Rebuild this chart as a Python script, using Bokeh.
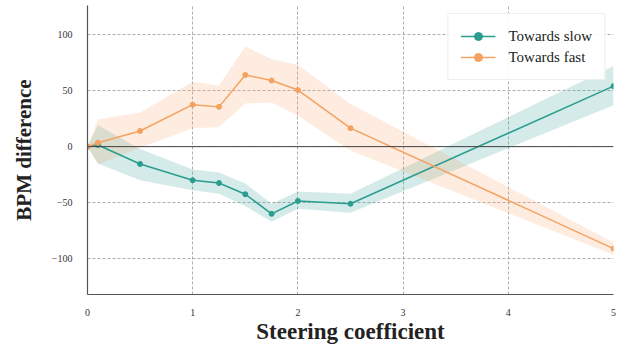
from bokeh.plotting import figure
from bokeh.models import Range1d, Span, Legend, LegendItem, FixedTicker, CustomJSTickFormatter
from bokeh.embed import file_html
from bokeh.resources import INLINE

coef = [0, 0.1, 0.5, 1.0, 1.25, 1.5, 1.75, 2.0, 2.5, 5.0]
slow_mean = [0, 1.5, -15.5, -30, -32.5, -42.5, -60, -48.5, -51, 54]
slow_low = [0, -15, -30, -39, -42, -53, -67, -55.5, -59, 37]
slow_high = [0, 19, -2, -20.5, -23, -33, -51, -40, -42, 72]
fast_mean = [0, 3.5, 14, 37.5, 35.5, 64, 59, 50.5, 16.5, -91]
fast_low = [0, -16, -1, 16.5, 17.5, 38.5, 39.5, 27.5, -3.5, -96.5]
fast_high = [0, 24.5, 30.5, 58, 54.5, 89.5, 78, 73, 38, -85.5]
x_ticks = [0, 1, 2, 3, 4, 5]
y_ticks = [-100, -50, 0, 50, 100]

TEAL = "#2a9d8f"
ORANGE = "#f4a261"
FONT = "Liberation Serif"

p = figure(width=629, height=347, output_backend="svg", toolbar_location=None,
           x_range=Range1d(0, 5), y_range=Range1d(-132, 126),
           min_border_left=87, min_border_right=16, min_border_top=5, min_border_bottom=53)
p.outline_line_color = None

p.varea(x=coef, y1=slow_low, y2=slow_high, fill_color=TEAL, fill_alpha=0.2)
p.varea(x=coef, y1=fast_low, y2=fast_high, fill_color=ORANGE, fill_alpha=0.2)

zero = Span(location=0, dimension="width", line_color="#444444", line_width=1)
p.add_layout(zero)

l1 = p.line(coef, slow_mean, line_color=TEAL, line_width=1.5)
s1 = p.scatter(coef, slow_mean, size=5, fill_color=TEAL, line_color=TEAL)
l2 = p.line(coef, fast_mean, line_color=ORANGE, line_width=1.5)
s2 = p.scatter(coef, fast_mean, size=5, fill_color=ORANGE, line_color=ORANGE)

for ax in (p.xaxis[0], p.yaxis[0]):
    ax.major_tick_line_color = None
    ax.minor_tick_line_color = None
    ax.major_tick_out = 0
    ax.major_tick_in = 0
    ax.minor_tick_out = 0
    ax.axis_line_color = "#555555"
    ax.axis_line_width = 1.2
    ax.major_label_text_font = FONT
    ax.major_label_text_font_size = "10px"
    ax.major_label_text_color = "#333333"
    ax.axis_label_text_font = FONT
    ax.axis_label_text_font_style = "bold"
    ax.axis_label_text_color = "#222222"

p.xaxis.ticker = FixedTicker(ticks=x_ticks)
p.yaxis.ticker = FixedTicker(ticks=y_ticks)
p.yaxis.formatter = CustomJSTickFormatter(code="return tick < 0 ? '\u2212' + Math.abs(tick) : '' + tick;")
p.xaxis.axis_label = "Steering coefficient"
p.yaxis.axis_label = "BPM difference"
p.xaxis.axis_label_text_font_size = "23px"
p.yaxis.axis_label_text_font_size = "21px"
p.xaxis.major_label_standoff = 14
p.yaxis.major_label_standoff = 15
p.xaxis.axis_label_standoff = 0
p.yaxis.axis_label_standoff = 13

p.xgrid.grid_line_color = "#999999"
p.ygrid.grid_line_color = "#999999"
p.xgrid.grid_line_dash = "3 2"
p.ygrid.grid_line_dash = "3 2"
p.xgrid.grid_line_width = 0.8
p.ygrid.grid_line_width = 0.8

legend = Legend(items=[LegendItem(label="Towards slow", renderers=[l1, s1]),
                       LegendItem(label="Towards fast", renderers=[l2, s2])],
                location="top_right")
legend.margin = 8
legend.padding = 12
legend.spacing = 1
legend.glyph_width = 35
legend.label_standoff = 13
legend.label_text_font = FONT
legend.label_text_font_size = "15px"
legend.label_text_color = "#222222"
legend.border_line_color = "#dddddd"
legend.border_line_width = 1
legend.background_fill_alpha = 0.92
p.add_layout(legend)

open("out.html", "w").write(file_html(p, INLINE))
